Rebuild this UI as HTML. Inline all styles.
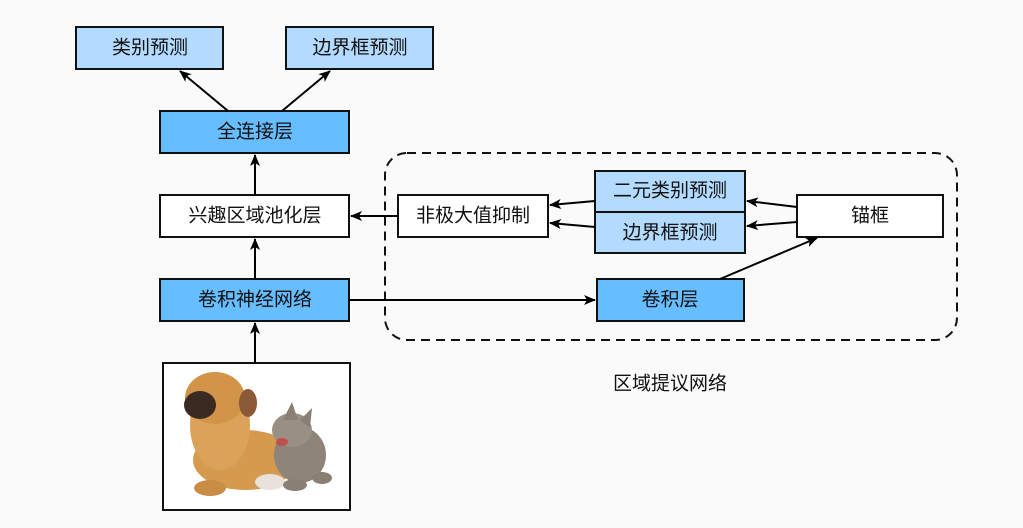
<!DOCTYPE html>
<html><head><meta charset="utf-8"><style>
html,body{margin:0;padding:0;background:#fafafa;}
svg{display:block;}
text{font-family:"Liberation Sans","Noto Sans CJK SC",sans-serif;font-size:19px;fill:#111;text-anchor:middle;dominant-baseline:central;}
</style></head><body>
<svg width="1023" height="528" viewBox="0 0 1023 528" xmlns="http://www.w3.org/2000/svg">
<defs>
<marker id="a" markerWidth="12" markerHeight="10" refX="11" refY="5" orient="auto" markerUnits="userSpaceOnUse">
<path d="M0,0 L12,5 L0,10 L3,5 Z" fill="#000"/>
</marker>
</defs>
<rect x="0" y="0" width="1023" height="528" fill="#fafafa"/>
<rect x="385" y="153" width="572" height="187" rx="22" fill="none" stroke="#111" stroke-width="2" stroke-dasharray="9,6"/>
<g stroke="#111" stroke-width="2">
<rect x="76" y="27" width="147" height="42" fill="#b3daff"/>
<rect x="286" y="27" width="147" height="42" fill="#b3daff"/>
<rect x="160" y="111" width="189" height="42" fill="#66bdff"/>
<rect x="160" y="195" width="189" height="42" fill="#fff"/>
<rect x="160" y="279" width="189" height="42" fill="#66bdff"/>
<rect x="163" y="363" width="187" height="147" fill="#fff"/>
<rect x="398" y="195" width="150" height="42" fill="#fff"/>
<rect x="595" y="171" width="150" height="41" fill="#b3daff"/>
<rect x="595" y="212" width="150" height="41" fill="#b3daff"/>
<rect x="797" y="195" width="146" height="42" fill="#fff"/>
<rect x="597" y="279" width="147" height="42" fill="#66bdff"/>
</g>
<text x="150" y="48">类别预测</text>
<text x="360" y="48">边界框预测</text>
<text x="255" y="132">全连接层</text>
<text x="255" y="216">兴趣区域池化层</text>
<text x="255" y="300">卷积神经网络</text>
<text x="473" y="216">非极大值抑制</text>
<text x="670" y="191">二元类别预测</text>
<text x="670" y="233">边界框预测</text>
<text x="870" y="216">锚框</text>
<text x="670" y="300">卷积层</text>
<text x="670" y="384">区域提议网络</text>
<g stroke="#000" stroke-width="2" fill="none" marker-end="url(#a)">
<line x1="228" y1="111" x2="180" y2="71"/>
<line x1="282" y1="111" x2="330" y2="71"/>
<line x1="255" y1="195" x2="255" y2="155"/>
<line x1="255" y1="279" x2="255" y2="239"/>
<line x1="255" y1="363" x2="255" y2="323"/>
<line x1="398" y1="216" x2="351" y2="216"/>
<line x1="349" y1="300" x2="595" y2="300"/>
<line x1="595" y1="201" x2="550" y2="205"/>
<line x1="595" y1="227" x2="550" y2="223"/>
<line x1="797" y1="207" x2="747" y2="201"/>
<line x1="797" y1="222" x2="747" y2="226"/>
<line x1="720" y1="279" x2="817" y2="238"/>
</g>
<!-- simplified dog & cat -->
<g>
<ellipse cx="245" cy="460" rx="52" ry="30" fill="#d59a4e"/>
<ellipse cx="220" cy="425" rx="30" ry="45" fill="#dba25a"/>
<ellipse cx="215" cy="398" rx="30" ry="26" fill="#d29448"/>
<ellipse cx="200" cy="405" rx="16" ry="14" fill="#3a2a22"/>
<ellipse cx="248" cy="403" rx="9" ry="14" fill="#8a5a36"/>
<ellipse cx="210" cy="488" rx="16" ry="8" fill="#c98d45"/>
<ellipse cx="270" cy="482" rx="15" ry="8" fill="#e8e2da"/>
<ellipse cx="300" cy="455" rx="26" ry="28" fill="#8e8479"/>
<ellipse cx="292" cy="430" rx="20" ry="17" fill="#9a8f84"/>
<polygon points="283,420 292,402 298,420" fill="#8a7f74"/>
<polygon points="300,420 312,408 310,428" fill="#8a7f74"/>
<ellipse cx="282" cy="442" rx="6" ry="4" fill="#c0504f"/>
<ellipse cx="295" cy="485" rx="12" ry="6" fill="#8a7f74"/>
<ellipse cx="322" cy="478" rx="10" ry="6" fill="#8a7f74"/>
</g>
</svg>
</body></html>
